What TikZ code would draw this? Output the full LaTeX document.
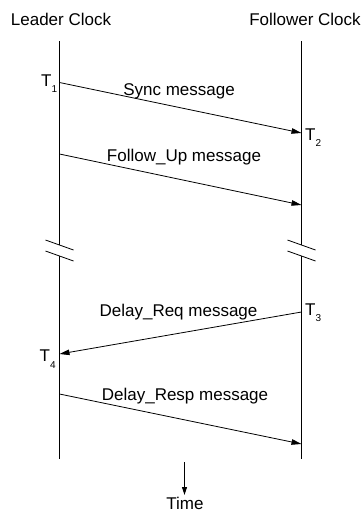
\documentclass[tikz,border=0pt]{standalone}
\usepackage{fontspec}
\setmainfont{Liberation Sans}
\usetikzlibrary{arrows.meta}
\newcommand{\tstamp}[1]{T\raisebox{-6.5pt}{\fontsize{10}{10}\selectfont #1}}
\begin{document}
\begin{tikzpicture}[x=1pt,y=-1pt,
  lbl/.style={font=\fontsize{17}{17}\selectfont, inner sep=0pt, anchor=base},
  tlbl/.style={font=\fontsize{17}{17}\selectfont, inner sep=0pt, anchor=base west},
  life/.style={line width=1pt},
  msg/.style={line width=0.8pt, -{Triangle[length=10pt,width=5.5pt]}},
  brk/.style={line width=0.8pt}]
\useasboundingbox (0,0) rectangle (364,512);

% headers
\node[lbl] (leader) at (61,25.5) {Leader Clock};
\node[lbl] (follower) at (305,25.5) {Follower Clock};

% lifelines with breaks
\coordinate (Ltop) at (59.5,41);
\coordinate (Lb1) at (59.5,245);
\coordinate (Lb2) at (59.5,256);
\coordinate (Lbot) at (59.5,459);
\coordinate (Rtop) at (301.5,41);
\coordinate (Rb1) at (301.5,245);
\coordinate (Rb2) at (301.5,256);
\coordinate (Rbot) at (301.5,459);
\draw[life] (Ltop) -- (Lb1) (Lb2) -- (Lbot);
\draw[life] (Rtop) -- (Rb1) (Rb2) -- (Rbot);
\foreach \c in {Lb1,Lb2,Rb1,Rb2}
  \draw[brk] ([shift={(-14,-5)}]\c) -- ([shift={(14,5)}]\c);

% event points
\coordinate (t1) at (59.5,82.5);
\coordinate (t2) at (301.5,133);
\coordinate (f1) at (59.5,154);
\coordinate (f2) at (301.5,205);
\coordinate (t3) at (301.5,312);
\coordinate (t4) at (59.5,354);
\coordinate (r1) at (59.5,394);
\coordinate (r2) at (301.5,444);

% messages
\draw[msg] (t1) -- (t2);
\draw[msg] (f1) -- (f2);
\draw[msg] (t3) -- (t4);
\draw[msg] (r1) -- (r2);

\node[lbl] (sync) at (179,95) {Sync message};
\node[lbl] (fup) at (184,161.7) {Follow\_Up message};
\node[lbl] (dreq) at (178.5,316) {Delay\_Req message};
\node[lbl] (dresp) at (185,400.7) {Delay\_Resp message};

% timestamps
\node[tlbl] (T1) at (41,86) {\tstamp{1}};
\node[tlbl] (T2) at (305,140) {\tstamp{2}};
\node[tlbl] (T3) at (305,315) {\tstamp{3}};
\node[tlbl] (T4) at (39.5,361.5) {\tstamp{4}};

% time axis
\coordinate (time0) at (184.5,462);
\coordinate (time1) at (184.5,495);
\node[lbl] (time) at (185,509.5) {Time};
\draw[line width=0.8pt, -{Triangle[length=8pt,width=5pt]}] (time0) -- (time1);
\end{tikzpicture}
\end{document}
